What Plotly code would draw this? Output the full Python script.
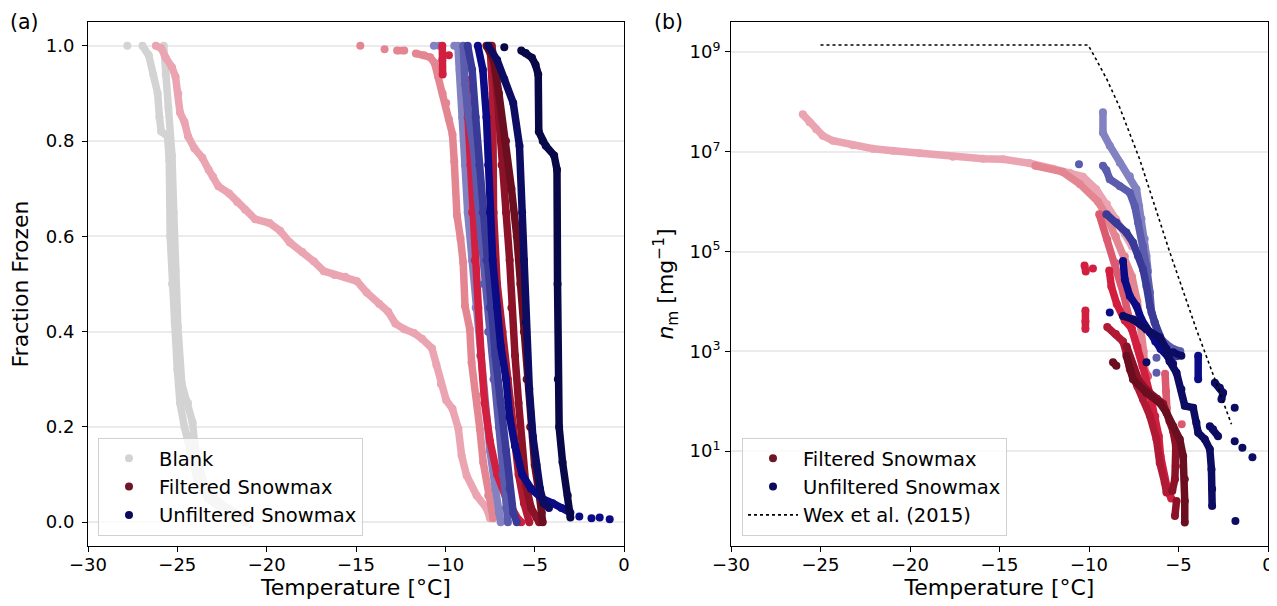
import plotly.graph_objects as go

# ---------------- data ----------------
x_tick_vals = [-30, -25, -20, -15, -10, -5, 0]
x_tick_text = ["\u221230", "\u221225", "\u221220", "\u221215", "\u221210", "\u22125", "0"]
ff_tick_vals = [0.0, 0.2, 0.4, 0.6, 0.8, 1.0]
ff_tick_text = ["0.0", "0.2", "0.4", "0.6", "0.8", "1.0"]
nm_tick_vals = [1e1, 1e3, 1e5, 1e7, 1e9]
nm_tick_text = ["10<sup>1</sup>", "10<sup>3</sup>", "10<sup>5</sup>", "10<sup>7</sup>", "10<sup>9</sup>"]

# panel (a): fraction frozen curves (None = gap between separate dots)
a_blank1_T = [-27.8, None, -26.95, -26.6, -26.35, -26.1, -26.0, -25.9, -25.55, -25.45, -25.4, -25.3,
              -25.15, -25.0, -24.85, -24.6, -24.3, -23.9, -23.3, -22.6]
a_blank1_ff = [1.0, None, 1.0, 0.98, 0.94, 0.9, 0.85, 0.82, 0.81, 0.76, 0.6, 0.5,
               0.42, 0.32, 0.25, 0.2, 0.15, 0.09, 0.05, 0.03]
a_blank2_T = [-25.76, -25.65, -25.5, -25.3, -25.2, -25.1, -24.97, -24.75, -24.4, -24.15, -24.05,
              -23.8, -23.4, -22.6, -21.7, -21.2]
a_blank2_ff = [1.0, 0.94, 0.87, 0.77, 0.65, 0.53, 0.41, 0.29, 0.25, 0.21, 0.17,
               0.12, 0.07, 0.04, 0.02, 0.0]

a_f1_T = [-26.2, -25.9, -25.65, -25.3, -25.1, -24.95, -24.85, -24.6, -24.4, -24.05, -23.6, -23.25,
          -23.0, -22.7, -22.1, -21.65, -21.2, -20.65, -19.85, -19.25, -18.7, -18.0, -17.35, -16.8,
          -16.2, -15.6, -14.95, -14.4, -13.7, -13.2, -12.8, -12.3, -11.75, -11.3, -10.75, -10.5,
          -10.25, -9.95, -9.6, -9.27, -9.09, -8.81, -8.25, -7.69, -7.5]
a_f1_ff = [1.0, 0.995, 0.975, 0.955, 0.935, 0.9, 0.86, 0.84, 0.81, 0.785, 0.765, 0.74,
           0.725, 0.705, 0.69, 0.672, 0.656, 0.636, 0.628, 0.612, 0.587, 0.567, 0.547, 0.527,
           0.519, 0.515, 0.506, 0.482, 0.458, 0.442, 0.417, 0.405, 0.397, 0.385, 0.365, 0.33,
           0.29, 0.256, 0.238, 0.196, 0.14, 0.098, 0.056, 0.029, 0.008]
a_f2_T = [-14.76, None, -13.4, None, -12.7, -12.3, None, -11.65, -11.2, -10.85, -10.6, -10.4, -10.15,
          -9.95, -9.8, -9.6, -9.5, -9.35, -9.15, -9.0, -8.9, -8.63, -8.53, -8.25, -8.07, -7.88,
          -7.6, -7.32]
a_f2_ff = [1.0, None, 0.993, None, 0.99, 0.99, None, 0.984, 0.98, 0.976, 0.964, 0.935, 0.9,
           0.88, 0.846, 0.814, 0.757, 0.644, 0.595, 0.545, 0.454, 0.405, 0.335, 0.266, 0.196, 0.126,
           0.056, 0.008]
a_f3_T = [-10.17, -10.17, -10.15, None, -9.8, None, -8.85, -8.75, -8.6, -8.5, -8.35, -8.15, -8.0,
          -7.8, -7.5, -7.1, -6.6, -6.2, -5.9, -5.75]
a_f3_ff = [1.0, 0.97, 0.94, None, 0.98, None, 0.93, 0.85, 0.75, 0.65, 0.55, 0.45, 0.35,
           0.25, 0.17, 0.1, 0.05, 0.02, 0.005, 0.0]
a_f4_T = [-7.5, -7.4, -7.35, -7.3, -7.1, -6.8, -6.5, -6.2, -5.9, -5.6, -5.3]
a_f4_ff = [1.0, 0.95, 0.9, 0.65, 0.5, 0.4, 0.3, 0.2, 0.1, 0.04, 0.0]
a_f5_T = [-7.4, -7.2, -7.0, -6.85, -6.6, -6.4, -6.3, -6.1, -5.9, -5.7, -5.5, -5.2, -4.9, -4.75]
a_f5_ff = [1.0, 0.95, 0.85, 0.75, 0.65, 0.55, 0.45, 0.35, 0.25, 0.15, 0.08, 0.03, 0.01, 0.0]
a_f6_T = [-7.7, -7.3, -7.0, -6.6, -6.3, -6.0, -5.8, -5.6, -5.45, -5.25, -5.0, -4.75, -4.6, -4.55]
a_f6_ff = [1.0, 0.97, 0.9, 0.8, 0.7, 0.6, 0.5, 0.4, 0.3, 0.2, 0.12, 0.06, 0.02, 0.0]

a_u1_T = [-10.64, None, -10.35, None, -9.5, None, -9.3, -9.2, -9.05, -8.9, -8.75, -8.5, -8.3, -8.05,
          -7.8, -7.5, -7.2, -7.0, -6.9]
a_u1_ff = [1.0, None, 1.0, None, 1.0, None, 1.0, 0.95, 0.85, 0.75, 0.65, 0.55, 0.45, 0.35,
           0.25, 0.15, 0.07, 0.02, 0.0]
a_u2_T = [-9.0, -8.9, -8.7, -8.4, -8.2, -8.0, -7.85, -7.6, -7.3, -7.0, -6.8, -6.6, -6.5]
a_u2_ff = [1.0, 0.92, 0.85, 0.78, 0.68, 0.6, 0.5, 0.4, 0.3, 0.2, 0.1, 0.03, 0.0]
a_u3_T = [-8.75, -8.5, -8.3, -8.1, -7.9, -7.7, -7.5, -7.2, -6.9, -6.6, -6.4, -6.2, -6.0]
a_u3_ff = [1.0, 0.95, 0.85, 0.75, 0.65, 0.55, 0.45, 0.35, 0.25, 0.15, 0.07, 0.02, 0.0]
a_u4_T = [-8.18, -7.9, -7.7, -7.6, -7.5, -7.35, -7.1, -6.9, -6.6, -6.4, -6.1, -5.7, -5.2, -4.6,
          -4.0, -3.5, -3.0, None, -2.5, None, -1.82, None, -1.36, None, -0.8]
a_u4_ff = [1.0, 0.95, 0.85, 0.75, 0.65, 0.55, 0.45, 0.37, 0.3, 0.22, 0.16, 0.1, 0.07, 0.05,
           0.04, 0.03, 0.02, None, 0.012, None, 0.008, None, 0.01, None, 0.006]
a_u5_T = [-7.6, -7.1, -6.7, -6.2, -5.85, -5.7, -5.6, -5.5, -5.3, -5.1, -4.9, -4.7, -4.5, -4.2]
a_u5_ff = [1.0, 0.97, 0.93, 0.88, 0.79, 0.65, 0.55, 0.42, 0.28, 0.18, 0.12, 0.07, 0.04, 0.03]
a_u6_T = [-6.7, None, -5.75, -5.5, -5.15, -4.95, -4.8, -4.77, -4.55, -4.38, -3.91, -3.75, -3.72,
          -3.7, -3.63, -3.44, -3.15, -3.0]
a_u6_ff = [0.997, None, 0.99, 0.985, 0.975, 0.96, 0.94, 0.82, 0.8, 0.79, 0.77, 0.74, 0.5,
           0.3, 0.2, 0.126, 0.056, 0.01]

# panel (b): log10 of n_m [mg^-1]
b_f1_T = [-25.99, -25.61, -25.24, -24.87, -24.31, -23.19, -22.07, -20.96, -19.46, -17.6, -15.92,
          -14.8, -13.31, -12.01, -11.08, -10.34, -9.6, -9.0, -8.5, -8.0, -7.6]
b_f1_log = [7.75, 7.59, 7.45, 7.32, 7.22, 7.13, 7.06, 7.02, 6.97, 6.9, 6.86,
            6.85, 6.77, 6.66, 6.58, 6.5, 6.25, 5.95, 5.65, 5.35, 5.1]
b_f2_T = [-13.0, -11.5, -10.5, -9.5, -9.0, -8.5, -8.0, -7.6, -7.3, -7.1, -6.95, -6.85, -6.8]
b_f2_log = [6.72, 6.6, 6.35, 6.0, 5.7, 5.3, 4.9, 4.5, 4.0, 3.5, 3.0, 2.5, 2.3]
b_f3_T = [-9.43, -8.98, -8.52, -8.07, -7.62, -7.28, -7.0, -6.7, None, -5.75, -5.7, -5.65, None, -4.82]
b_f3_log = [5.75, 5.24, 4.77, 4.15, 3.45, 3.06, 2.7, 2.5, None, 2.55, 2.2, 1.85, None, 1.54]
b_f4_T = [-10.25, -10.18, None, -9.78, None, -10.2, -10.2, -10.2, None, -8.87, -8.75, -8.45, -8.0,
          -7.6, -7.3, -7.0, -6.6, -6.3, -6.1, -6.0, -5.8, -5.6, -5.4]
b_f4_log = [4.72, 4.6, None, 4.66, None, 3.82, 3.6, 3.45, None, 4.62, 4.3, 3.95, 3.62,
            3.45, 3.1, 2.7, 2.15, 1.7, 1.3, 0.9, 0.5, 0.2, 0.05]
b_f5_T = [-8.98, -8.5, -8.1, -7.9, -7.72, -7.3, -6.98, -6.6, -6.23, -6.05, -5.77, -5.67]
b_f5_log = [3.49, 3.35, 3.2, 2.95, 2.64, 2.3, 2.04, 1.71, 1.24, 0.77, 0.37, 0.17]
b_f6_T = [-7.9, -7.6, -7.2, -6.7, -6.2, -5.86, -5.5, -5.3, -5.15, -5.15, -5.2, -5.35, None, -5.11, -5.2]
b_f6_log = [3.1, 2.75, 2.4, 2.2, 2.05, 1.95, 1.6, 1.4, 1.1, 0.7, 0.44, 0.2, None, 0.0, -0.3]
b_f7_T = [-8.66, -8.47, None, -7.91, -7.54, -6.79, -6.05, -5.67, -5.3, -4.93, -4.74, -4.65, -4.65, -4.65]
b_f7_log = [2.78, 2.71, None, 2.91, 2.44, 2.17, 1.97, 1.77, 1.5, 1.24, 0.9, 0.44, 0.0, -0.43]

b_u1_T = [-9.22, -9.22, -8.84, -8.28, -7.72, -7.35, -7.2, -7.07, -6.89, -6.79, -6.7]
b_u1_log = [7.79, 7.38, 7.12, 6.78, 6.51, 6.25, 5.91, 5.65, 5.25, 4.91, 4.6]
b_u2_T = [-10.56, None, -9.22, -9.03, -8.84, -8.28, -7.72, -7.44, -7.26, -6.98, -6.79, -6.6, -6.51,
          -6.33, -6.1, -5.7, -5.3, -4.9, None, -6.23, None, -6.23]
b_u2_log = [6.75, None, 6.72, 6.63, 6.45, 6.31, 6.18, 5.91, 5.58, 5.11, 4.71, 4.18, 3.78,
            3.58, 3.3, 3.15, 3.05, 3.0, None, 2.87, None, 2.57]
b_u3_T = [-9.03, -8.47, -7.91, -7.54, -7.26, -6.98, -6.79, -6.6, -6.33, -6.05, -5.8, -5.5, -5.1]
b_u3_log = [5.75, 5.58, 5.38, 5.18, 4.91, 4.64, 4.31, 3.91, 3.58, 3.31, 3.1, 2.95, 2.9]
b_u4_T = [-8.84, None, -8.1, -8.0, -7.72, -7.35, -7.07, -6.6, -6.3, -6.0, -5.6, -5.3, None, -3.9, -3.9]
b_u4_log = [3.78, None, 4.81, 4.44, 4.11, 3.91, 3.64, 3.38, 3.2, 3.05, 2.9, 2.75, None, 2.91, 2.44]
b_u5_T = [-8.1, -7.54, -6.79, -6.05, -5.67, -5.5, -5.11, -4.84, -4.65, -4.18, -4.0, -3.9, -3.53,
          -3.25, -3.16, -3.12, -3.12, None, -5.3, -4.84, None, -6.79, None, -3.25, -3.07, -2.79,
          None, -2.97, -2.69, -2.51, -2.6, None, -1.86, None, -1.86, None, -1.43, None, -0.87,
          None, -1.82]
b_u5_log = [3.71, 3.64, 3.44, 3.28, 3.05, 2.8, 2.57, 2.24, 1.91, 1.87, 1.57, 1.37, 1.24,
            1.04, 0.64, 0.24, -0.1, None, 2.98, 2.91, None, 2.78, None, 1.5, 1.44, 1.3,
            None, 2.37, 2.27, 2.17, 2.04, None, 1.87, None, 1.2, None, 1.07, None, 0.88,
            None, -0.4]

wex_T = [-25.0, -10.05, -9.6, -9.0, -8.3, -7.17, -5.5, -4.0, -2.04]
wex_log = [9.14, 9.14, 8.85, 8.45, 7.9, 6.85, 5.0, 3.44, 1.54]

# colours
c_blank = "#d3d3d3"
c_f = ["#eba4b1", "#e48592", "#dc5a70", "#d21f3f", "#b01a35", "#8c1228", "#6b0e20"]
c_u = ["#8282c2", "#5c5cae", "#3a3a98", "#0b0b85", "#0c0c62", "#080848"]
c_leg_f = "#6e1526"
c_leg_u = "#0b0b5a"

FONT = "DejaVu Sans"
# the page body adds an 8 px offset, so the figure is 8 px smaller and all
# pixel positions below are given relative to the figure itself
W, H = 1269, 598
L_PX, R_PX, T_PX, B_PX = 80, 1260, 14, 538
PW = R_PX - L_PX


def px_x(p):
    return (p - L_PX) / PW


def px_y(p):
    return (B_PX - p) / (B_PX - T_PX)


def unlog(vals):
    return [None if v is None else 10 ** v for v in vals]


fig = go.Figure()


def curve(x, y, color, xa="x", ya="y"):
    fig.add_trace(go.Scatter(x=x, y=y, mode="lines+markers", xaxis=xa, yaxis=ya,
                             line=dict(color=color, width=7.5), marker=dict(color=color, size=8),
                             connectgaps=False, showlegend=False, hoverinfo="skip"))


# panel (a)
curve(a_blank1_T, a_blank1_ff, c_blank)
curve(a_blank2_T, a_blank2_ff, c_blank)
curve(a_f1_T, a_f1_ff, c_f[0])
curve(a_f2_T, a_f2_ff, c_f[1])
curve(a_u1_T, a_u1_ff, c_u[0])
curve(a_f3_T, a_f3_ff, c_f[3])
curve(a_u2_T, a_u2_ff, c_u[1])
curve(a_u3_T, a_u3_ff, c_u[2])
curve(a_f4_T, a_f4_ff, c_f[4])
curve(a_f5_T, a_f5_ff, c_f[5])
curve(a_f6_T, a_f6_ff, c_f[6])
curve(a_u4_T, a_u4_ff, c_u[3])
curve(a_u5_T, a_u5_ff, c_u[4])
curve(a_u6_T, a_u6_ff, c_u[5])

# panel (b)
curve(b_f1_T, unlog(b_f1_log), c_f[0], "x2", "y2")
curve(b_f2_T, unlog(b_f2_log), c_f[1], "x2", "y2")
curve(b_f3_T, unlog(b_f3_log), c_f[2], "x2", "y2")
curve(b_u1_T, unlog(b_u1_log), c_u[0], "x2", "y2")
curve(b_u2_T, unlog(b_u2_log), c_u[1], "x2", "y2")
curve(b_u3_T, unlog(b_u3_log), c_u[2], "x2", "y2")
curve(b_f4_T, unlog(b_f4_log), c_f[3], "x2", "y2")
curve(b_f5_T, unlog(b_f5_log), c_f[4], "x2", "y2")
curve(b_f6_T, unlog(b_f6_log), c_f[5], "x2", "y2")
curve(b_f7_T, unlog(b_f7_log), c_f[6], "x2", "y2")
curve(b_u4_T, unlog(b_u4_log), c_u[3], "x2", "y2")
curve(b_u5_T, unlog(b_u5_log), c_u[4], "x2", "y2")

# legend entries (markers only)
for name, col, leg, grp in [("Blank", c_blank, "legend", "a1"),
                            ("Filtered Snowmax", c_leg_f, "legend", "a2"),
                            ("Unfiltered Snowmax", c_leg_u, "legend", "a3"),
                            ("Filtered Snowmax", c_leg_f, "legend2", "b1"),
                            ("Unfiltered Snowmax", c_leg_u, "legend2", "b2")]:
    fig.add_trace(go.Scatter(x=[None], y=[None], mode="markers", name=name,
                             marker=dict(color=col, size=8), legend=leg, legendgroup=grp,
                             xaxis="x" if leg == "legend" else "x2",
                             yaxis="y" if leg == "legend" else "y2"))

fig.add_trace(go.Scatter(x=wex_T, y=unlog(wex_log), mode="lines", xaxis="x2", yaxis="y2",
                         line=dict(color="black", width=1.6, dash="dot"),
                         name="Wex et al. (2015)", legend="legend2", legendgroup="w",
                         hoverinfo="skip"))

axis_common = dict(showline=True, mirror=True, linecolor="black", linewidth=1,
                   ticks="outside", ticklen=5, tickwidth=1, tickcolor="black",
                   zeroline=False, automargin=False,
                   tickfont=dict(family=FONT, size=18, color="black"))
ydom = [0, 1]
title_font = dict(family=FONT, size=22)

leg_common = dict(xanchor="left", yanchor="bottom", bgcolor="rgba(255,255,255,0.8)",
                  bordercolor="#d0d0d0", borderwidth=1, font=dict(family=FONT, size=19.5),
                  tracegroupgap=2, itemwidth=50, traceorder="normal")

fig.update_layout(
    width=W, height=H, margin=dict(l=L_PX, r=W - R_PX, t=T_PX, b=H - B_PX, autoexpand=False),
    paper_bgcolor="white", plot_bgcolor="white",
    font=dict(family=FONT, color="black"),
    xaxis=dict(domain=[0, px_x(616)], anchor="y", range=[-30, 0], tickvals=x_tick_vals,
               ticktext=x_tick_text, showgrid=False, ticklabelstandoff=-3,
               title=dict(text="Temperature [°C]", font=title_font, standoff=6), **axis_common),
    yaxis=dict(domain=ydom, anchor="x", range=[-0.05, 1.05], tickvals=ff_tick_vals,
               ticktext=ff_tick_text, showgrid=True, gridcolor="#ebebeb", gridwidth=1.5,
               ticklabelstandoff=4,
               title=dict(text="Fraction Frozen", font=title_font, standoff=11), **axis_common),
    xaxis2=dict(domain=[px_x(723), 1], anchor="y2", range=[-30, 0], tickvals=x_tick_vals,
                ticktext=x_tick_text, showgrid=False, ticklabelstandoff=-3,
                title=dict(text="Temperature [°C]", font=title_font, standoff=6), **axis_common),
    yaxis2=dict(domain=ydom, anchor="x2", type="log", range=[-0.9, 9.6],
                tickvals=nm_tick_vals, ticktext=nm_tick_text, showgrid=True, gridcolor="#ebebeb",
                gridwidth=1.5, ticklabelstandoff=1,
                title=dict(text="<i>n</i><sub>m</sub> [mg<sup>\u22121</sup>]", font=title_font,
                           standoff=9), **axis_common),
    legend=dict(x=px_x(90), y=px_y(528), **leg_common),
    legend2=dict(x=px_x(734), y=px_y(528), **leg_common),
    annotations=[
        dict(text="(a)", x=px_x(0), y=px_y(14), xref="paper", yref="paper",
             xanchor="left", yanchor="middle", showarrow=False, font=dict(size=20.5)),
        dict(text="(b)", x=px_x(644), y=px_y(14), xref="paper", yref="paper",
             xanchor="left", yanchor="middle", showarrow=False, font=dict(size=20.5)),
    ],
)

fig.write_html("out.html")
